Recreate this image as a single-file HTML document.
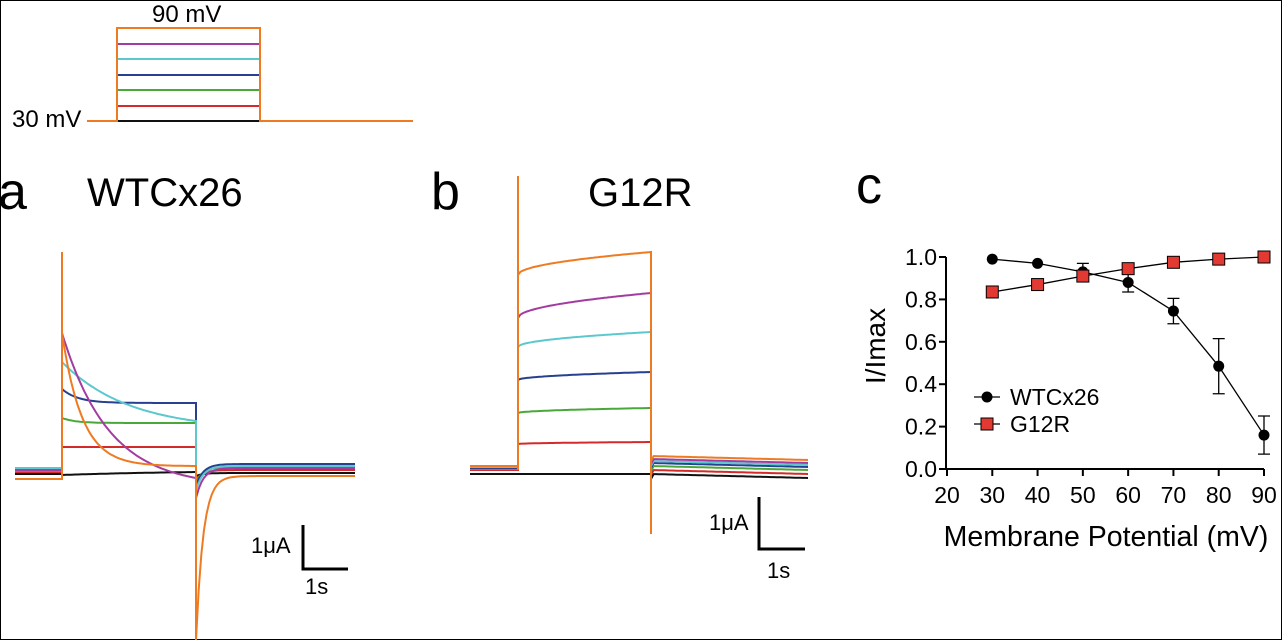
<!DOCTYPE html>
<html><head><meta charset="utf-8"><style>
html,body{margin:0;padding:0;background:#fff}
svg{display:block;font-family:"Liberation Sans",Arial,sans-serif}
</style></head><body>
<svg id="fig" width="1282" height="640" viewBox="0 0 1282 640">
<rect x="0.5" y="0.5" width="1281" height="639" fill="#fff" stroke="#000" stroke-width="1"/>
<g id="protocol"></g>
<text x="152" y="22" font-size="24">90 mV</text>
<text x="12" y="127" font-size="24">30 mV</text>
<text x="-2" y="209" font-size="52">a</text>
<text x="87" y="206" font-size="40">WTCx26</text>
<text x="431" y="209" font-size="52">b</text>
<text x="588" y="206" font-size="40">G12R</text>
<text x="856" y="203" font-size="52">c</text>
<g id="tracesA"></g>
<g id="tracesB"></g>
<g>
<path d="M303,525 V569 H348" fill="none" stroke="#000" stroke-width="3"/>
<text x="251" y="553" font-size="22">1μA</text>
<text x="305" y="594" font-size="22">1s</text>
</g>
<g>
<path d="M759,497 V549 H805" fill="none" stroke="#000" stroke-width="3"/>
<text x="709" y="530" font-size="22">1μA</text>
<text x="767" y="578" font-size="22">1s</text>
</g>
<g id="chartC"></g>
</svg>
<script>
var NS="http://www.w3.org/2000/svg";
var colors=["#111111","#d42a2a","#4aa83a","#27408f","#5cc8cc","#a33ca0","#ee7b22"];
// panel c data
var voltages=[30,40,50,60,70,80,90];
var wtValues=[0.99,0.97,0.93,0.88,0.745,0.485,0.16];
var wtErrors=[0,0,0.04,0.045,0.06,0.13,0.09];
var g12rValues=[0.835,0.87,0.91,0.945,0.975,0.99,1.0];
var xTicks=[20,30,40,50,60,70,80,90];
var yTicks=[0.0,0.2,0.4,0.6,0.8,1.0];
// trace params (pixel levels)
var aStart=[475,447,418,389,362,333,333];
var aEnd=[472,447,423,403,421,478,466];
var aTau=[1,1,0.1,0.12,0.5,0.35,0.15];
var aPre=[474,472,471,470,468,470,479];
var aPost=[473,470,467,464,466,468,476];
var aDip=[476,480,482,486,490,498,640];
var bStart=[474,444,413,380,347,318,275];
var bEnd=[474,442,408,372,332,293,252];
var bPre=[474,470,469,468,467,466,466];
var bPost=[474,470,466,463,461,459,456];

function el(tag,attrs,parent){var e=document.createElementNS(NS,tag);for(var k in attrs)e.setAttribute(k,attrs[k]);parent.appendChild(e);return e;}

var prot=document.getElementById('protocol');
var pLevels=[121,106,90,75,59,44,28];
for(var i=0;i<7;i++){
  var ln=el('line',{x1:117,x2:260,y1:pLevels[i],y2:pLevels[i],stroke:colors[i],'stroke-width':2},prot);
  
  
}
el('path',{d:'M87,121 H117 V28 H260 V121 H413',fill:'none',stroke:colors[6],'stroke-width':2},prot);

function traces(gid,x0,x1,x2,x3,pre,st,en,tau,post,dip,rate){
  var g=document.getElementById(gid);
  for(var i=0;i<7;i++){
    var d='M'+x0+','+pre[i]+' H'+x1+' L'+x1+','+st[i];
    for(var k=1;k<=60;k++){
      var f=k/60, t=tau?tau[i]:null;
      var y=t? en[i]+(st[i]-en[i])*(Math.exp(-f/t)-Math.exp(-1/t))/(1-Math.exp(-1/t)) : st[i]+(en[i]-st[i])*Math.sqrt(f);
      d+=' L'+(x1+(x2-x1)*f).toFixed(1)+','+y.toFixed(1);
    }
    var dipY=dip?dip[i]:post[i]+5;
    d+=' L'+x2+','+dipY;
    for(var k=1;k<=60;k++){var f=k/60;var y=post[i]+(dipY-post[i])*Math.exp(-f*rate);if(!dip)y=post[i]+f*4;d+=' L'+(x2+(x3-x2)*f).toFixed(1)+','+y.toFixed(1);}
    var p=el('path',{d:d,fill:'none',stroke:colors[i],'stroke-width':2},g);
    
    
  }
}
traces('tracesA',15,62,196,355,aPre,aStart,aEnd,aTau,aPost,aDip,22);
el('line',{x1:62,x2:62,y1:252,y2:333,stroke:colors[6],'stroke-width':2},document.getElementById('tracesA'));
traces('tracesB',470,518,651,808,bPre,bStart,bEnd,null,bPost,null,1);
var gb=document.getElementById('tracesB');
el('line',{x1:518,x2:518,y1:176,y2:470,stroke:colors[6],'stroke-width':2},gb);
el('line',{x1:651,x2:651,y1:252,y2:534,stroke:colors[6],'stroke-width':2},gb);

var gc=document.getElementById('chartC');
function xs(v){return 947+(v-20)*(1264-947)/70;}
function ys(v){return 469-v*(469-257);}
el('line',{x1:946,x2:946,y1:ys(1.0),y2:ys(0)+1,stroke:'#000','stroke-width':2},gc);
el('line',{x1:946,x2:xs(90),y1:ys(0),y2:ys(0),stroke:'#000','stroke-width':2},gc);
yTicks.forEach(function(t){
  el('line',{x1:939,x2:946,y1:ys(t),y2:ys(t),stroke:'#000','stroke-width':2},gc);
  var tx=el('text',{x:937,y:ys(t)+8,'font-size':23,'text-anchor':'end'},gc);tx.textContent=t.toFixed(1);
  
  
});
xTicks.forEach(function(t){
  el('line',{x1:xs(t),x2:xs(t),y1:ys(0),y2:ys(0)+7,stroke:'#000','stroke-width':2},gc);
  var tx=el('text',{x:xs(t),y:503,'font-size':23,'text-anchor':'middle'},gc);tx.textContent=t;
  
  
});
var xt=el('text',{x:1106,y:546,'font-size':28.5,'text-anchor':'middle'},gc);xt.textContent='Membrane Potential (mV)';


var yt=el('text',{x:0,y:0,'font-size':28,'text-anchor':'middle',transform:'translate(885,346) rotate(-90)'},gc);yt.textContent='I/Imax';


function line(vals){return vals.map(function(v,i){return (i?'L':'M')+xs(voltages[i])+','+ys(v);}).join(' ');}
el('path',{d:line(wtValues),fill:'none',stroke:'#000','stroke-width':1.3},gc);
el('path',{d:line(g12rValues),fill:'none',stroke:'#000','stroke-width':1.3},gc);
wtErrors.forEach(function(e,i){
  if(!e)return;var x=xs(voltages[i]);
  el('path',{d:'M'+x+','+ys(wtValues[i]-e)+' V'+ys(wtValues[i]+e)+' M'+(x-6)+','+ys(wtValues[i]-e)+' h12 M'+(x-6)+','+ys(wtValues[i]+e)+' h12',stroke:'#000','stroke-width':1.3,fill:'none'},gc);
});
wtValues.forEach(function(v,i){
  var c=el('circle',{cx:xs(voltages[i]),cy:ys(v),r:5.5,fill:'#000'},gc);
  
  
});
g12rValues.forEach(function(v,i){
  var r=el('rect',{x:xs(voltages[i])-6,y:ys(v)-6,width:12,height:12,fill:'#e23a33',stroke:'#000','stroke-width':1},gc);
  
  
});
el('line',{x1:974,x2:1000,y1:397,y2:397,stroke:'#000','stroke-width':1.3},gc);
el('circle',{cx:987,cy:397,r:5.5,fill:'#000'},gc);
var l1=el('text',{x:1010,y:405,'font-size':23},gc);l1.textContent='WTCx26';


el('line',{x1:974,x2:1000,y1:424,y2:424,stroke:'#000','stroke-width':1.3},gc);
el('rect',{x:981,y:418,width:12,height:12,fill:'#e23a33',stroke:'#000','stroke-width':1},gc);
var l2=el('text',{x:1010,y:432,'font-size':23},gc);l2.textContent='G12R';


</script>
</body></html>
